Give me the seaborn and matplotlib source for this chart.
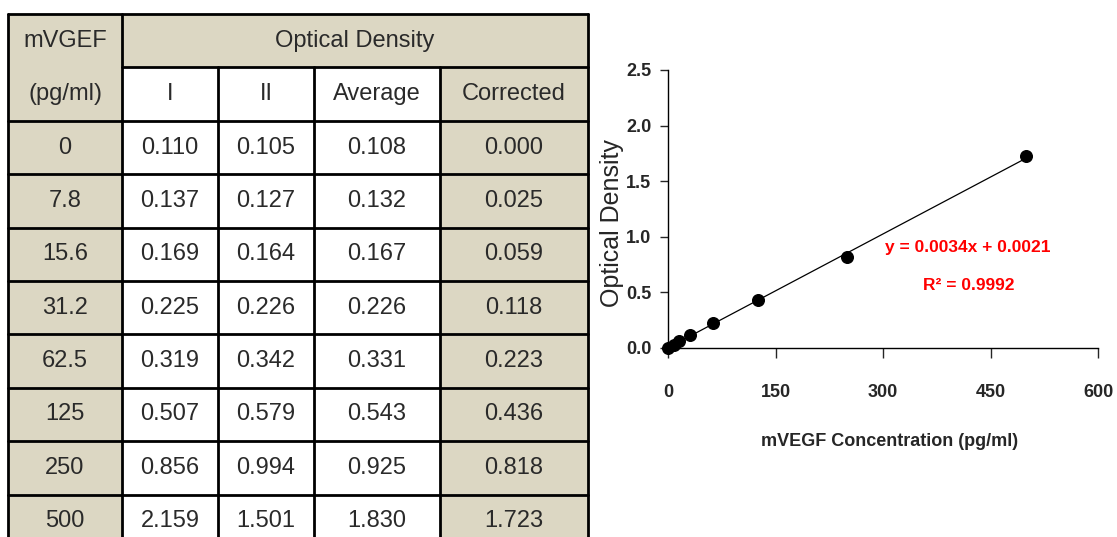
import matplotlib
matplotlib.use('Agg')
import matplotlib.pyplot as plt
from matplotlib.patches import Rectangle
import seaborn as sns
import pandas as pd

# dane ze zdjecia
stezenie = [0, 7.8, 15.6, 31.2, 62.5, 125, 250, 500]
stezenie_txt = ['0', '7.8', '15.6', '31.2', '62.5', '125', '250', '500']
od_1 = [0.110, 0.137, 0.169, 0.225, 0.319, 0.507, 0.856, 2.159]
od_2 = [0.105, 0.127, 0.164, 0.226, 0.342, 0.579, 0.994, 1.501]
srednia = [0.108, 0.132, 0.167, 0.226, 0.331, 0.543, 0.925, 1.830]
poprawione = [0.000, 0.025, 0.059, 0.118, 0.223, 0.436, 0.818, 1.723]
naglowki = ['I', 'II', 'Average', 'Corrected']
x_ticki = [0, 150, 300, 450, 600]
y_ticki = [0.0, 0.5, 1.0, 1.5, 2.0, 2.5]
rownanie = 'y = 0.0034x + 0.0021'
r2 = 'R² = 0.9992'

sns.set_style('ticks')
plt.rcParams['font.family'] = ['Liberation Sans', 'DejaVu Sans']

fig = plt.figure(figsize=(11.17, 5.37), dpi=100)

# ---- tabela (w pikselach) ----
tab = fig.add_axes([0, 0, 1, 1])
tab.set_xlim(0, 1117)
tab.set_ylim(537, 0)
tab.axis('off')

beige = '#DCD7C3'
kol = [8, 122, 218, 314, 440, 588]
wiersz_h = 53.4
top = 14
tfont = dict(fontsize=17, color='#2a2a2a', ha='center', va='center')

def komorka(x0, x1, y0, y1, kolor):
    tab.add_patch(Rectangle((x0, y0), x1 - x0, y1 - y0, facecolor=kolor, edgecolor='none'))

n = len(stezenie)
dol = top + wiersz_h * (n + 2)
# tla
komorka(kol[0], kol[1], top, dol, beige)
komorka(kol[1], kol[5], top, top + wiersz_h, beige)
for j in range(4):
    komorka(kol[j + 1], kol[j + 2], top + wiersz_h, dol, beige if j == 3 else 'white')

tab.text((kol[0] + kol[1]) / 2, top + wiersz_h / 2, 'mVGEF', **tfont)
tab.text((kol[0] + kol[1]) / 2, top + wiersz_h * 1.5, '(pg/ml)', **tfont)
tab.text((kol[1] + kol[5]) / 2, top + wiersz_h / 2, 'Optical Density', **tfont)
for j, h in enumerate(naglowki):
    tab.text((kol[j + 1] + kol[j + 2]) / 2, top + wiersz_h * 1.5, h, **tfont)

kolumny = [od_1, od_2, srednia, poprawione]
for i in range(n):
    yc = top + wiersz_h * (i + 2.5)
    tab.text((kol[0] + kol[1]) / 2, yc, stezenie_txt[i], **tfont)
    for j, k in enumerate(kolumny):
        tab.text((kol[j + 1] + kol[j + 2]) / 2, yc, f'{k[i]:.3f}', **tfont)

# linie
lw = 2
tab.plot([kol[0], kol[5]], [top, top], color='black', lw=lw)
tab.plot([kol[1], kol[5]], [top + wiersz_h, top + wiersz_h], color='black', lw=lw)
for i in range(2, n + 2):
    y = top + wiersz_h * i
    tab.plot([kol[0], kol[5]], [y, y], color='black', lw=lw)
for j, x in enumerate(kol):
    y0 = top if j in (0, 1, 5) else top + wiersz_h
    tab.plot([x, x], [y0, dol], color='black', lw=lw)

# ---- wykres ----
ax = fig.add_axes([668 / 1117, 189 / 537, 430 / 1117, 278 / 537])
df = pd.DataFrame({'stezenie': stezenie, 'od': poprawione})
sns.regplot(data=df, x='stezenie', y='od', ax=ax, ci=None, color='black',
            scatter_kws={'s': 70, 'clip_on': False, 'alpha': 1, 'zorder': 3},
            line_kws={'lw': 0.9})
ax.set_xlim(0, 600)
ax.set_ylim(0, 2.5)
ax.set_xticks(x_ticki)
ax.set_yticks(y_ticki)
ax.set_yticklabels([f'{v:.1f}' for v in y_ticki])
ax.tick_params(axis='x', length=7, width=1, pad=19, labelsize=13)
ax.tick_params(axis='y', length=6, width=1, pad=6, labelsize=13)
for lab in ax.get_xticklabels() + ax.get_yticklabels():
    lab.set_fontweight('bold')
for s in ['left', 'bottom']:
    ax.spines[s].set_linewidth(1)
    ax.spines[s].set_color('black')
sns.despine(ax=ax)

ax.set_xlabel('mVEGF Concentration (pg/ml)', fontsize=13, fontweight='bold')
ax.xaxis.set_label_coords(0.516, -0.305)
ax.set_ylabel('Optical Density', fontsize=18)
ax.yaxis.set_label_coords(-0.102, 0.45)

ax.text(418, 0.905, rownanie, color='red', fontsize=12.5, fontweight='bold', ha='center', va='center')
ax.text(420, 0.56, r2, color='red', fontsize=12.5, fontweight='bold', ha='center', va='center')

fig.savefig('out.png', dpi=100)
